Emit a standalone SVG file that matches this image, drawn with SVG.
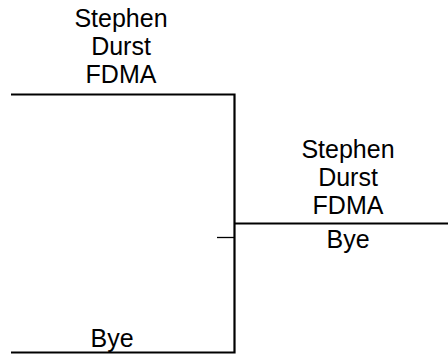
<svg xmlns="http://www.w3.org/2000/svg" width="448" height="356" viewBox="0 0 448 356">
<style>
text{font-family:"Liberation Sans",Arial,sans-serif;font-size:25px;fill:#000;text-anchor:middle}
.ln{stroke:#000;stroke-width:2.2;fill:none}
.tk{stroke:#000;stroke-width:1.3;fill:none}
</style>
<rect width="448" height="356" fill="#fff"/>
<g id="connectors">
<path class="ln" d="M11 94.5H234.5V352.5H11"/>
<path class="ln" d="M234.5 223.5H448"/>
<path class="tk" d="M217 237.5H234"/>
</g>
<g id="node-top">
<text x="121" y="27">Stephen</text>
<text x="121" y="55">Durst</text>
<text x="121" y="83">FDMA</text>
</g>
<g id="node-bottom">
<text x="112" y="347">Bye</text>
</g>
<g id="node-winner">
<text x="348" y="158">Stephen</text>
<text x="348" y="186">Durst</text>
<text x="348" y="214">FDMA</text>
<text x="348" y="248">Bye</text>
</g>
</svg>
